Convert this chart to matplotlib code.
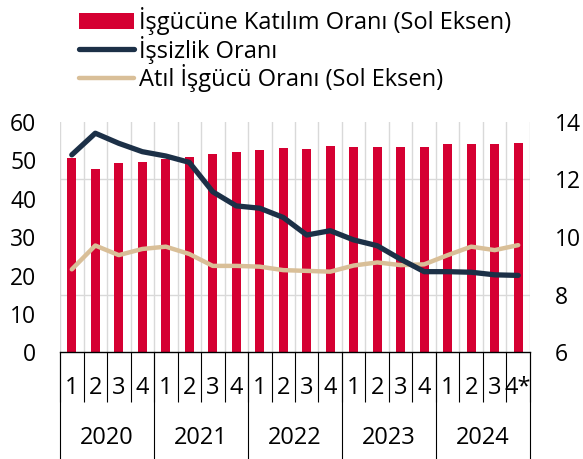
import matplotlib
matplotlib.use('Agg')
import matplotlib.pyplot as plt
import numpy as np

plt.rcParams['font.family'] = ['Open Sans', 'DejaVu Sans']

YEARS = ['2020', '2021', '2022', '2023', '2024']
QUARTERS = ['1', '2', '3', '4'] * 4 + ['1', '2', '3', '4*']

# labour force participation rate (left axis)
participation = [50.5, 47.6, 49.2, 49.4, 50.4, 50.8, 51.6, 52.2, 52.6, 53.2,
                 52.8, 53.7, 53.4, 53.4, 53.3, 53.3, 54.1, 54.2, 54.2, 54.4]
# unemployment rate (right axis)
unemployment = [12.85, 13.6, 13.25, 12.96, 12.81, 12.59, 11.57, 11.08, 11.0, 10.68,
                10.07, 10.22, 9.9, 9.7, 9.23, 8.8, 8.8, 8.78, 8.69, 8.67]
# underutilised labour rate (left axis)
underutil = [21.6, 27.8, 25.3, 26.9, 27.5, 25.6, 22.5, 22.5, 22.3, 21.4,
             21.2, 21.0, 22.6, 23.4, 22.7, 22.9, 25.3, 27.5, 26.6, 27.9]

RED = '#D50032'
NAVY = '#1C3047'
TAN = '#D9BF98'
GRID = '#D9D9D9'

fig = plt.figure(figsize=(5.83, 4.59), dpi=100)
ax = fig.add_axes([0.103, 0.2322, 0.806, 0.5027])
ax2 = ax.twinx()

x = np.arange(len(participation))
bars = ax.bar(x, participation, width=0.4, color=RED, zorder=2)
tan_line, = ax.plot(x, underutil, color=TAN, lw=3.2, zorder=3, solid_capstyle='round')
navy_line, = ax2.plot(x, unemployment, color=NAVY, lw=3.8, zorder=3, solid_capstyle='round')

ax.set_xlim(-0.5, len(x) - 0.5)
ax.set_ylim(0, 60)
ax2.set_ylim(6, 14)
ax.set_yticks(range(0, 61, 10))
ax2.set_yticks(range(6, 15, 2))

# grid: vertical at category boundaries, horizontal at right-axis ticks
ax.set_xticks(np.arange(-0.5, len(x), 1), minor=True)
ax.set_yticks(np.arange(0, 61, 15), minor=True)
ax.grid(which='minor', color=GRID, lw=1, zorder=0)
ax.grid(which='major', visible=False)
ax.set_axisbelow(True)

for a in (ax, ax2):
    for s in ('top', 'left', 'right'):
        a.spines[s].set_visible(False)
ax2.spines['bottom'].set_visible(False)
ax.spines['bottom'].set_color('black')
ax.spines['bottom'].set_linewidth(1)

ax.tick_params(axis='y', which='both', length=0, labelsize=16.5, pad=17)
ax2.tick_params(axis='y', length=0, labelsize=16.5, pad=18)
ax.set_xticks(x)
ax.set_xticklabels(QUARTERS)
ax.tick_params(axis='x', which='major', length=0, labelsize=17, pad=17)
ax.tick_params(axis='x', which='minor', length=36, width=0.8, color='black', direction='out')

# year separators and labels
trans = ax.get_xaxis_transform()
for k, yr in enumerate(YEARS):
    ax.plot([4 * k - 0.5, 4 * k - 0.5], [0, -0.5], transform=trans, color='black',
            lw=0.8, clip_on=False)
    ax.text(4 * k + 1.5, -0.371, yr, transform=trans, ha='center', va='center', fontsize=17)
ax.plot([len(x) - 0.5] * 2, [0, -0.5], transform=trans, color='black', lw=0.8, clip_on=False)

fig.legend([bars, navy_line, tan_line],
           ['İşgücüne Katılım Oranı (Sol Eksen)', 'İşsizlik Oranı', 'Atıl İşgücü Oranı (Sol Eksen)'],
           loc='upper left', bbox_to_anchor=(0.12, 1.005), frameon=False, fontsize=17,
           handlelength=2.3, handletextpad=0.22, labelspacing=0.02, borderaxespad=0)

fig.savefig('out.png', dpi=100)
